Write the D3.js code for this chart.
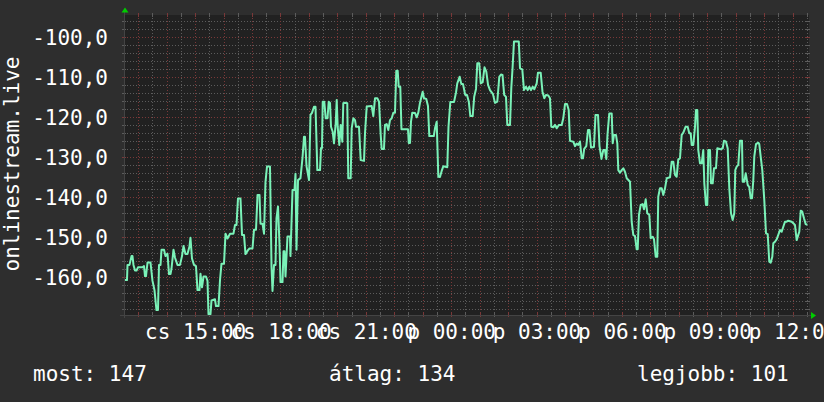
<!DOCTYPE html>
<html>
<head>
<meta charset="utf-8">
<script src="https://cdn.jsdelivr.net/npm/d3@7"></script>
<style>
  html, body { margin: 0; padding: 0; background: #2e2e2e; }
  svg { display: block; }
  text { font-family: "DejaVu Sans Mono", monospace; font-size: 21px; fill: #ffffff; }
</style>
</head>
<body>
<svg></svg>
<script>
const width = 824;
const height = 402;
const plotLeft = 124;
const plotRight = 809;
const plotTop = 15;
const plotBottom = 315;

// Thursday 12:30 is minute 0 of the series
const startTime = new Date(2024, 0, 4, 12, 30);
const spanMinutes = 1446.8;

const minutes = [
  2.1, 6.3, 7.4, 11.6, 15.8, 17.9, 20.0, 23.2, 26.4, 29.5, 39.0, 42.2, 44.3, 46.4, 49.6, 55.9, 60.1, 64.3, 68.5, 71.7,
  73.8, 77.0, 79.1, 84.4, 87.5, 91.7, 94.9, 98.1, 100.2, 104.4, 107.6, 112.8, 118.1, 122.3, 125.5, 129.7, 133.9, 138.1, 140.2, 143.4,
  147.6, 151.8, 155.0, 159.2, 161.3, 164.5, 167.7, 172.9, 176.1, 178.2, 182.4, 184.5, 191.9, 194.0, 199.3, 202.5, 205.6, 210.9, 214.1, 218.3,
  223.6, 230.9, 234.1, 237.3, 240.4, 245.7, 248.9, 253.1, 256.2, 261.5, 264.7, 271.0, 274.2, 278.4, 281.6, 285.8, 287.9, 292.1, 295.3, 298.4,
  301.6, 307.9, 311.1, 313.2, 316.4, 319.5, 321.6, 324.8, 327.9, 330.1, 334.3, 336.4, 338.5, 340.6, 344.8, 350.1, 351.1, 355.4, 359.6, 361.7,
  363.8, 367.0, 372.2, 376.5,
  379.6, 381.7, 384.9, 390.2, 393.3, 396.5, 400.7, 403.9, 407.7, 413.4, 415.5, 417.6, 419.1, 422.4, 425.4, 429.2, 431.7, 434.5, 436.6, 440.1,
  442.9, 446.5, 448.6, 450.7, 454.1, 457.0, 460.4, 462.5, 466.1, 470.9, 473.0, 478.1, 480.2, 483.6, 487.2, 489.3, 495.6, 499.2, 506.2, 508.3,
  511.9, 522.4, 525.8, 529.4, 534.2, 537.8, 541.4, 543.5, 548.3,
  550.4, 554.0, 557.4, 561.0, 564.6, 568.0, 571.5, 574.3, 577.2, 579.4, 582.7, 585.2, 599.0, 600.6, 603.2, 605.3, 608.0, 613.7, 617.3, 620.7,
  624.3, 629.9, 632.7, 637.5, 641.1, 643.9, 653.4, 655.9, 659.5, 662.9, 666.4, 670.0, 673.4, 681.8, 684.4, 688.2, 696.0, 700.2, 702.9, 708.0,
  711.4, 715.0, 719.6, 723.4, 727.2, 730.4, 735.4, 738.6, 742.4, 745.1, 749.3, 752.3, 756.5, 760.3, 764.1, 767.8, 771.9, 778.2, 782.4,
  787.3, 791.5, 795.1, 798.3, 801.8, 805.6, 808.4, 814.1, 816.8, 819.4, 822.5, 832.6, 835.2, 840.0, 843.6, 847.8, 851.4, 854.8, 858.4, 862.0,
  865.3, 870.4, 873.1, 878.8, 882.6, 886.4, 890.0, 894.8, 898.4, 901.2, 905.4, 909.0, 912.6, 917.4, 923.1, 926.5, 930.1, 934.3, 937.9, 940.6,
  947.6, 951.2, 954.7, 958.1, 961.7, 965.3, 968.0, 970.6, 975.0, 978.6, 981.7, 984.9, 991.2, 994.4, 999.7, 1002.8, 1007.0, 1010.8, 1014.4, 1017.2,
  1019.7, 1023.5, 1028.6, 1030.7, 1033.4, 1037.6, 1040.4, 1042.5,
  1046.1, 1049.7, 1053.0, 1056.6, 1060.2, 1067.2, 1070.7, 1074.1, 1077.7, 1081.3, 1083.4, 1086.1, 1089.7, 1093.9, 1096.7, 1100.3, 1103.6, 1107.9, 1110.8, 1115.0,
  1117.8, 1121.4, 1124.7, 1126.8, 1130.4, 1134.0, 1137.4, 1141.0, 1144.6, 1151.5, 1155.1, 1158.5, 1162.1, 1165.6, 1169.0, 1172.6, 1176.2, 1179.6, 1184.6, 1188.8,
  1192.2, 1195.2, 1197.3, 1200.7, 1204.3, 1206.3, 1209.1, 1211.2, 1214.8, 1218.4, 1221.7, 1223.9, 1227.4, 1230.2, 1232.3, 1235.9, 1238.0, 1241.6, 1244.3, 1248.5,
  1251.3, 1258.4, 1262.7, 1265.4, 1269.6, 1273.2, 1276.6, 1280.2, 1283.7, 1287.1, 1289.2, 1292.2, 1295.6, 1299.1, 1303.4, 1304.8, 1308.2, 1311.2, 1315.4, 1318.8,
  1321.7, 1324.5, 1327.2, 1329.3, 1332.9, 1337.7, 1339.8, 1342.8, 1346.2, 1350.4, 1354.0, 1357.6, 1360.9, 1363.9, 1367.3, 1369.4, 1373.0, 1376.5, 1379.9, 1383.5,
  1387.1, 1390.5, 1394.0, 1397.6, 1401.0, 1408.2, 1411.6, 1415.1, 1418.7, 1422.1, 1424.2, 1427.2, 1430.5, 1434.1, 1437.7, 1441.2
];

const values = [
  -160.7, -160.7, -156.9, -156.9, -154.7, -154.7, -156.9, -158.3, -158.3, -157.5, -157.5, -157.2, -159.7, -159.7, -156.3, -156.3, -160.9, -163.2, -168.2, -168.2,
  -156.9, -156.9, -153.1, -153.1, -154.7, -154.1, -159.2, -159.2, -157.8, -153.1, -155.1, -156.9, -156.9, -154.7, -152.2, -154.2, -154.2, -152.3, -150.1, -155.3,
  -156.9, -157.2, -163.2, -163.2, -159.1, -162.5, -159.8, -159.8, -160.9, -169.2, -169.2, -165.8, -165.5, -167.2, -167.2, -160.7, -156.6, -156.6, -149.1, -150.3,
  -149.1, -149.1, -146.9, -146.9, -140.3, -140.3, -149.4, -149.4, -154.2, -153.2, -152.8, -152.8, -148.1, -148.1, -139.4, -139.4, -146.6, -146.6, -149.1, -136.2,
  -132.3, -132.3, -157.3, -163.4, -156.9, -156.9, -145.3, -142.3, -151.6, -161.2, -161.2, -153.5, -153.5, -159.8, -149.8, -149.8, -154.7, -138.2, -138.2, -134.1,
  -153.1, -135.7, -135.2, -130.1,
  -124.85, -124.85, -132.2, -135.7, -119.4, -118.9, -117.35, -117.35, -133.2, -133.2, -127.7, -127.7, -116.1, -116.1, -120.25, -120.25, -116.1, -116.4, -122.35, -123.6,
  -126.5, -121.5, -115.7, -122.35, -126.9, -121.9, -126.1, -116.5, -116.35, -116.5, -135.25, -135.25, -122.75, -120.25, -120.7, -122.35, -122.35, -130.7, -130.9, -124.0,
  -117.3, -117.2, -119.7, -115.25, -115.25, -116.1, -124.4, -127.9, -127.9,
  -121.9, -121.7, -123.2, -120.7, -120.25, -118.85, -118.85, -108.35, -108.35, -112.35, -112.35, -123.0, -123.0, -126.4, -126.4, -121.1, -118.85, -118.9, -120.0, -118.85,
  -116.35, -113.6, -115.25, -115.4, -117.2, -124.7, -124.7, -122.75, -121.1, -134.85, -134.9, -133.4, -132.25, -132.5, -122.35, -116.2, -116.2, -113.8, -111.5, -109.85,
  -111.7, -111.7, -114.4, -114.4, -116.1, -119.7, -119.7, -114.85, -112.9, -106.5, -106.5, -111.5, -111.2, -107.5, -108.6, -111.9, -113.2, -114.2, -116.4,
  -116.1, -109.9, -109.3, -109.4, -114.4, -114.9, -121.9, -121.9, -112.7, -107.8, -101.05, -101.05, -107.75, -108.0, -113.2, -112.35, -113.2, -112.35, -113.2, -112.35,
  -113.0, -111.5, -108.85, -108.85, -113.6, -115.25, -114.4, -114.55, -115.25, -122.35, -122.5, -121.9, -122.75, -121.9, -121.9, -120.25, -116.7, -116.7, -118.2, -125.9,
  -126.1, -127.2, -126.55, -126.9, -126.05, -130.25, -130.25, -127.9, -127.2, -123.2, -123.2, -127.55, -127.4, -119.4, -119.4, -127.2, -130.4, -128.2, -128.2, -130.4,
  -124.4, -119.05, -119.05, -126.5, -124.4, -124.4, -126.5, -133.2,
  -133.85, -133.2, -132.75, -133.6, -135.25, -136.1, -146.1, -149.4, -149.7, -153.0, -153.0, -144.4, -141.9, -141.7, -143.0, -140.5, -144.0, -144.4, -150.25, -149.85,
  -150.5, -154.85, -154.85, -139.85, -137.75, -137.75, -139.4, -137.75, -135.25, -135.0, -131.1, -131.1, -134.4, -134.85, -130.5, -130.25, -124.4, -123.85, -122.35, -122.35,
  -124.0, -124.0, -126.9, -126.9, -122.35, -118.2, -118.2, -128.2, -131.5, -131.5, -128.2, -136.5, -141.9, -141.9, -128.2, -128.2, -136.5, -136.5, -132.75, -132.75,
  -127.75, -128.0, -127.75, -125.85, -126.1, -127.75, -137.75, -144.0, -145.7, -144.0, -133.2, -132.35, -131.9, -125.85, -125.85, -136.1, -136.1, -134.0, -136.9, -137.5,
  -140.25, -140.25, -135.7, -129.85, -126.7, -126.35, -126.7, -129.85, -133.2, -140.7, -149.0, -149.2, -156.1, -156.35, -154.85, -151.5, -151.1, -150.5, -149.4, -148.2,
  -148.6, -147.35, -146.1, -146.1, -145.85, -146.1, -146.5, -146.9, -150.7, -149.4, -148.6, -143.35, -143.6, -145.25, -146.7, -146.9
];

const yTicks = [-160, -150, -140, -130, -120, -110, -100];
const dayNames = ["v", "h", "k", "sze", "cs", "p", "szo"];
const legendLabels = ["most", "átlag", "legjobb"];
const legendValues = [147, 134, 101];
const axisTitle = "onlinestream.live";

const colors = {
    bg: "#2e2e2e",
    plot: "#212121",
    minor: "#5c5c5c",
    major: "#7a3838",
    axis: "#444444",
    arrow: "#00cc00",
    line: "#7af2b8"
};

const svg = d3.select("svg")
    .attr("width", width)
    .attr("height", height);

svg.append("rect")
    .attr("width", width)
    .attr("height", height)
    .attr("fill", colors.bg);

svg.append("rect")
    .attr("x", plotLeft)
    .attr("y", plotTop)
    .attr("width", plotRight - plotLeft)
    .attr("height", plotBottom - plotTop)
    .attr("fill", colors.plot);

const endTime = new Date(startTime.getTime() + spanMinutes * 60000);

const x = d3.scaleTime()
    .domain([startTime, endTime])
    .range([124, 810]);

const y = d3.scaleLinear()
    .domain([-169.425, -94.425])
    .range([plotBottom, plotTop]);

const huLocale = d3.formatLocale({decimal: ",", thousands: " ", grouping: [3], currency: ["", " Ft"], minus: "-"});
const yFormat = huLocale.format(".1f");

const px = v => Math.round(v) + 0.5;

// grid
const grid = svg.append("g").attr("shape-rendering", "crispEdges");

const minorY = d3.range(-168, -94, 2).filter(v => v % 10 !== 0);
const minorT = d3.timeMinute.every(30).range(startTime, endTime).filter(d => d.getMinutes() !== 0);
const majorT = d3.timeHour.range(startTime, endTime);

function hLines(data, color) {
    grid.append("g").selectAll("line")
        .data(data)
        .join("line")
        .attr("x1", plotLeft)
        .attr("x2", plotRight)
        .attr("y1", d => px(y(d)))
        .attr("y2", d => px(y(d)))
        .attr("stroke", color)
        .attr("stroke-dasharray", "1,2");
    // solid stubs at both ends
    grid.append("g").selectAll("path")
        .data(data)
        .join("path")
        .attr("d", d => `M${plotLeft - 2},${px(y(d))}h4M${plotRight - 3},${px(y(d))}h4`)
        .attr("stroke", color);
}

function vLines(data, color) {
    grid.append("g").selectAll("line")
        .data(data)
        .join("line")
        .attr("x1", d => px(x(d)))
        .attr("x2", d => px(x(d)))
        .attr("y1", plotTop)
        .attr("y2", plotBottom)
        .attr("stroke", color)
        .attr("stroke-dasharray", "1,2");
    grid.append("g").selectAll("path")
        .data(data)
        .join("path")
        .attr("d", d => `M${px(x(d))},${plotTop - 2}v4M${px(x(d))},${plotBottom - 2}v4`)
        .attr("stroke", color);
}

hLines(minorY, colors.minor);
vLines(minorT, colors.minor);
hLines(yTicks, colors.major);
vLines(majorT, colors.major);

// axes lines + arrows
grid.append("line")
    .attr("x1", plotLeft - 4).attr("x2", plotRight + 2)
    .attr("y1", plotBottom + 0.5).attr("y2", plotBottom + 0.5)
    .attr("stroke", colors.axis);
grid.append("line")
    .attr("x1", plotLeft + 0.5).attr("x2", plotLeft + 0.5)
    .attr("y1", plotBottom + 3).attr("y2", plotTop - 3)
    .attr("stroke", colors.axis);

svg.append("path")
    .attr("d", `M${plotLeft - 2.5},${plotTop - 2.5}L${plotLeft + 1},${plotTop - 7.5}L${plotLeft + 4.5},${plotTop - 2.5}Z`)
    .attr("fill", colors.arrow);
svg.append("path")
    .attr("d", `M${plotRight + 2},${plotBottom - 3}L${plotRight + 7},${plotBottom + 0.5}L${plotRight + 2},${plotBottom + 4}Z`)
    .attr("fill", colors.arrow);

// series
const series = minutes.map((m, i) => ({t: new Date(startTime.getTime() + m * 60000), v: values[i]}));

const line = d3.line()
    .x(d => x(d.t))
    .y(d => y(d.v));

svg.append("path")
    .datum(series)
    .attr("d", line)
    .attr("fill", "none")
    .attr("stroke", colors.line)
    .attr("stroke-width", 2)
    .attr("stroke-linejoin", "round");

// y labels
const yAxis = svg.append("g")
    .attr("transform", "translate(108,0)")
    .call(d3.axisLeft(y).tickValues(yTicks).tickFormat(yFormat).tickSize(0).tickPadding(0));
yAxis.select(".domain").remove();
yAxis.selectAll("text")
    .attr("dy", "0.36em")
    .attr("fill", "#ffffff")
    .style("font-size", "21px")
    .style("font-family", "'DejaVu Sans Mono', monospace");

// x labels, every 3 hours
const labelTimes = d3.timeHour.every(3).range(startTime, endTime);
const timeFmt = d3.timeFormat("%H:%M");
const xAxis = svg.append("g")
    .call(d3.axisBottom(x).tickValues(labelTimes).tickFormat(d => `${dayNames[d.getDay()]} ${timeFmt(d)}`).tickSize(0));
xAxis.select(".domain").remove();
xAxis.selectAll("text")
    .attr("y", 339)
    .attr("dy", 0)
    .attr("fill", "#ffffff")
    .style("font-size", "21px")
    .style("font-family", "'DejaVu Sans Mono', monospace");

// vertical title
svg.append("text")
    .attr("transform", "translate(19,164) rotate(-90)")
    .attr("text-anchor", "middle")
    .text(axisTitle);

// legend
const legendX = [33, 329, 637];
svg.selectAll(".legend")
    .data(legendLabels)
    .join("text")
    .attr("class", "legend")
    .attr("x", (d, i) => legendX[i])
    .attr("y", 381)
    .text((d, i) => `${d}: ${legendValues[i]}`);
</script>
</body>
</html>
